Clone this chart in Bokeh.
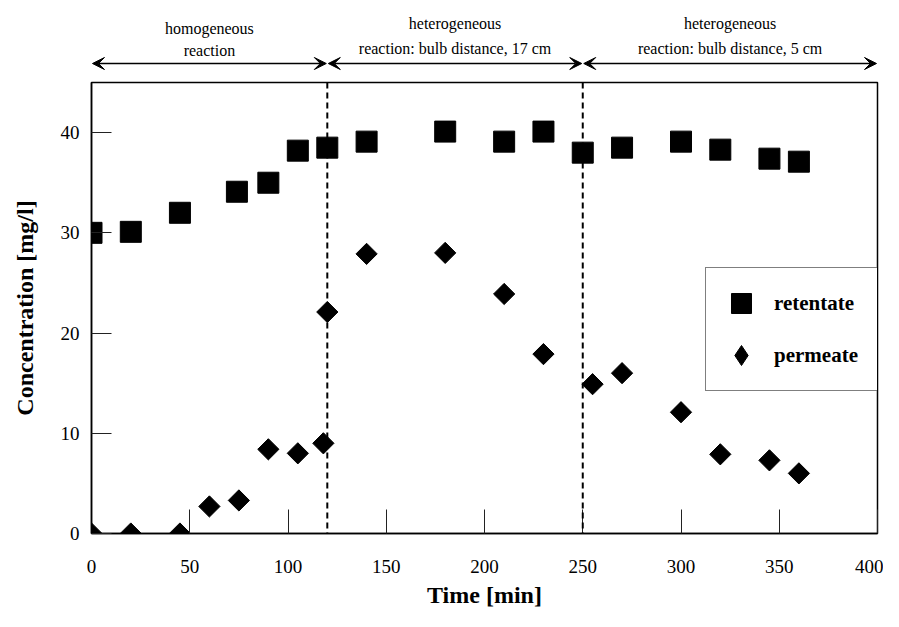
import numpy as np
from bokeh.plotting import figure
from bokeh.layouts import column
from bokeh.models import (Range1d, Span, Arrow, VeeHead, Legend,
                          LegendItem, FixedTicker)
from bokeh.core.properties import value
from bokeh.embed import file_html
from bokeh.resources import INLINE

# ---- data ----
ret_time = [0, 20, 45, 74, 90, 105, 120, 140, 180, 210, 230, 250, 270, 300, 320, 345, 360]
ret_conc = [30.0, 30.1, 32.0, 34.1, 35.0, 38.2, 38.5, 39.1, 40.1, 39.1, 40.1, 38.0, 38.5, 39.1, 38.3, 37.4, 37.1]

perm_time = [0, 20, 45, 60, 75, 90, 105, 118, 120, 140, 180, 210, 230, 255, 270, 300, 320, 345, 360]
perm_conc = [0.0, 0.0, 0.0, 2.7, 3.3, 8.4, 8.0, 9.0, 22.1, 27.9, 28.0, 23.9, 17.9, 14.9, 16.0, 12.1, 7.9, 7.3, 6.0]

phase_edges = [0, 120, 250, 400]
phase_title = ["homogeneous", "heterogeneous", "heterogeneous"]
phase_detail = ["reaction", "reaction: bulb distance, 17 cm", "reaction: bulb distance, 5 cm"]

x_ticks = [0, 50, 100, 150, 200, 250, 300, 350, 400]
y_ticks = [0, 10, 20, 30, 40]

FONT = "Liberation Serif"
W = 883
TOP_H = 81
MAIN_H = 611 - TOP_H

xr = Range1d(0, 400)

# ---------- top strip with the phase arrows and captions ----------
top = figure(width=W, height=TOP_H, x_range=xr, y_range=Range1d(0, TOP_H),
             output_backend="svg", toolbar_location=None,
             x_axis_location=None, y_axis_location=None,
             min_border_left=91, min_border_right=6,
             min_border_top=0, min_border_bottom=0)
top.grid.visible = False
top.outline_line_color = None
top.background_fill_color = "white"
top.border_fill_color = "white"

mids = [(phase_edges[i] + phase_edges[i + 1]) / 2 for i in range(len(phase_title))]
title_base = [53 if i == 0 else 58 for i in range(len(phase_title))]
detail_base = [31 if i == 0 else 33 for i in range(len(phase_title))]
top.text(x=mids, y=title_base, text=phase_title, text_align="center",
         text_baseline="alphabetic", text_font=value(FONT),
         text_font_size="16px", text_color="black")
top.text(x=mids, y=detail_base, text=phase_detail, text_align="center",
         text_baseline="alphabetic", text_font=value(FONT),
         text_font_size="16px", text_color="black")
for i in range(len(phase_title)):
    x0, x1 = phase_edges[i], phase_edges[i + 1]
    top.add_layout(Arrow(x_start=x0 + 0.5, x_end=x1 - 0.5, y_start=18, y_end=18,
                         line_color="black", line_width=1.5,
                         start=VeeHead(size=12, fill_color="black", line_color="black"),
                         end=VeeHead(size=12, fill_color="black", line_color="black")))

# ---------- main chart ----------
p = figure(width=W, height=MAIN_H,
           x_range=xr, y_range=Range1d(0, 45),
           output_backend="svg", toolbar_location=None,
           min_border_left=91, min_border_right=6,
           min_border_top=1, min_border_bottom=78)
p.grid.visible = False
p.outline_line_color = "black"
p.outline_line_width = 1.5
p.outline_line_alpha = 1.0
p.background_fill_color = "white"
p.border_fill_color = "white"

p.xaxis.ticker = FixedTicker(ticks=x_ticks)
p.yaxis.ticker = FixedTicker(ticks=y_ticks)
for ax in (p.xaxis, p.yaxis):
    ax.axis_line_color = "black"
    ax.axis_line_width = 1.5
    ax.major_tick_out = 0
    ax.minor_tick_line_color = None
    ax.major_tick_line_color = "#222222"
    ax.major_tick_line_width = 1
    ax.major_label_text_font = FONT
    ax.major_label_text_font_size = "19px"
    ax.major_label_text_color = "black"
    ax.axis_label_text_font = FONT
    ax.axis_label_text_font_size = "24px"
    ax.axis_label_text_font_style = "bold"
    ax.axis_label_text_color = "black"
p.xaxis.major_tick_in = 24
p.yaxis.major_tick_in = 20
p.xaxis.major_label_standoff = 26
p.yaxis.major_label_standoff = 12
p.xaxis.axis_label = "Time [min]"
p.yaxis.axis_label = "Concentration [mg/l]"
p.xaxis.axis_label_standoff = 6
p.yaxis.axis_label_standoff = 20

for edge in phase_edges[1:-1]:
    p.add_layout(Span(location=edge, dimension="height", line_color="black",
                      line_width=2, line_dash="6 4"))

r_ret = p.scatter(ret_time, ret_conc, marker="square", size=21,
                  fill_color="black", line_color="black")
# narrow diamonds hidden under the rotated squares: they supply the legend key
# (legend keys ignore the marker angle)
r_perm_key = p.scatter(perm_time, perm_conc, marker="diamond", size=19,
                       fill_color="black", line_color="black")
r_perm = p.scatter(perm_time, perm_conc, marker="square", angle=np.pi / 4,
                   size=15, fill_color="black", line_color="black")

legend = Legend(items=[LegendItem(label="retentate", renderers=[r_ret]),
                       LegendItem(label="permeate", renderers=[r_perm_key])],
                location=(614, 142),
                border_line_color="black", border_line_width=1.5,
                background_fill_color="white", background_fill_alpha=1.0,
                padding=10, spacing=2, glyph_width=50, glyph_height=50,
                label_standoff=8, label_width=93,
                label_text_font=FONT, label_text_font_size="21px",
                label_text_font_style="bold", label_text_color="black")
p.add_layout(legend)

layout = column(top, p, spacing=0)
open("out.html", "w").write(file_html(layout, INLINE))
